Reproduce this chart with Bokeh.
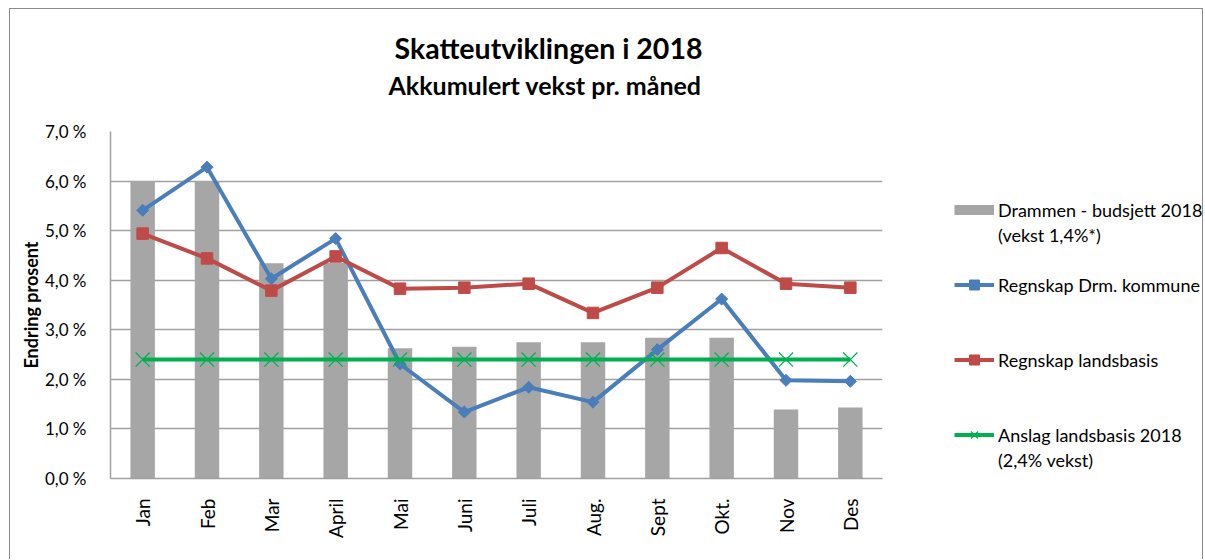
import numpy as np
from bokeh.plotting import figure
from bokeh.models import (FactorRange, Range1d, FixedTicker, Legend, LegendItem,
                          ColumnDataSource, Title)
from bokeh.embed import file_html
from bokeh.resources import INLINE

months = ["Jan", "Feb", "Mar", "April", "Mai", "Juni", "Juli", "Aug.", "Sept", "Okt.", "Nov", "Des"]
budsjett = [6.00, 6.00, 4.34, 4.35, 2.63, 2.66, 2.75, 2.75, 2.84, 2.84, 1.39, 1.43]
regnskap_drm = [5.41, 6.28, 4.03, 4.84, 2.31, 1.34, 1.84, 1.54, 2.60, 3.62, 1.98, 1.96]
regnskap_lands = [4.94, 4.44, 3.79, 4.48, 3.83, 3.85, 3.93, 3.34, 3.85, 4.65, 3.93, 3.85]
anslag = [2.4] * 12
y_ticks = [0, 1, 2, 3, 4, 5, 6, 7]
y_tick_labels = ["0,0 %", "1,0 %", "2,0 %", "3,0 %", "4,0 %", "5,0 %", "6,0 %", "7,0 %"]

FONT = "Lato"
GRID = "#a0a0a0"
EDGE = "1px solid #8a8a8a"
BAR = "#a6a6a6"

# page offset of the canvas (chart border drawn with CSS just outside it)
OX, OY = 10, 9
W, H = 1194, 551
FL, FT, FR, FB = 110 - OX, 131 - OY, 882 - OX, 478 - OY   # frame edges in canvas px
p = figure(width=W, height=H, x_range=FactorRange(*months), y_range=Range1d(0, 7),
           output_backend="svg", toolbar_location=None,
           min_border_left=FL, min_border_top=FT, min_border_right=W - FR, min_border_bottom=H - FB)
p.styles = {"margin-left": "9px", "margin-top": "8px",
            "border-top": EDGE, "border-left": EDGE, "border-right": EDGE}
p.outline_line_color = None
p.background_fill_color = "white"
p.border_fill_color = "white"

src = ColumnDataSource(dict(m=months, b=budsjett, d=regnskap_drm, l=regnskap_lands, a=anslag))

bars = p.vbar(x="m", top="b", width=0.38, source=src, fill_color=BAR, line_color=None)
# legend-only proxy (draws nothing in the plot) giving the flat grey swatch
bar_swatch = p.line(x=[months[0]], y=[np.nan], line_color=BAR, line_width=10)

bl = p.line(x="m", y="d", source=src, line_color="#4a7ebb", line_width=4)
bm = p.scatter(x="m", y="d", source=src, marker="square", angle=np.pi / 4, size=8.5,
               fill_color="#4a7ebb", line_color="#4a7ebb")
rl = p.line(x="m", y="l", source=src, line_color="#be4b48", line_width=4)
rm = p.scatter(x="m", y="l", source=src, marker="square", size=11.5,
               fill_color="#be4b48", line_color="#be4b48")
gl = p.line(x="m", y="a", source=src, line_color="#00b050", line_width=4)
gm = p.scatter(x="m", y="a", source=src, marker="x", size=20, line_color="#00b050", line_width=1.2)

# axes
p.yaxis.ticker = FixedTicker(ticks=y_ticks)
p.yaxis.major_label_overrides = {t: s for t, s in zip(y_ticks, y_tick_labels)}
p.yaxis.major_label_text_font = FONT
p.yaxis.major_label_text_font_size = "17px"
p.yaxis.major_label_text_color = "black"
p.yaxis.major_tick_line_color = None
p.yaxis.minor_tick_line_color = None
p.yaxis.major_label_standoff = 18
p.yaxis.axis_line_color = GRID
p.yaxis.axis_line_width = 1.5
p.yaxis.axis_label = "Endring prosent"
p.yaxis.axis_label_text_font = FONT
p.yaxis.axis_label_text_font_style = "bold"
p.yaxis.axis_label_text_font_size = "18px"
p.yaxis.axis_label_text_color = "black"
p.yaxis.axis_label_standoff = 0

p.xaxis.major_label_orientation = np.pi / 2
p.xaxis.major_label_text_font = FONT
p.xaxis.major_label_text_font_size = "19px"
p.xaxis.major_label_text_color = "black"
p.xaxis.major_label_standoff = 14
p.xaxis.major_tick_line_color = None
p.xaxis.minor_tick_line_color = None
p.xaxis.axis_line_color = GRID
p.xaxis.axis_line_width = 1.5
p.xgrid.grid_line_color = None
p.ygrid.grid_line_color = GRID
p.ygrid.grid_line_width = 1.5

# titles (first added sits next to the frame)
p.add_layout(Title(text="Akkumulert vekst pr. måned", align="left", offset=278,
                   vertical_align="top", standoff=59, text_font=FONT, text_font_style="bold",
                   text_font_size="25px", text_color="black"), "above")
p.add_layout(Title(text="Skatteutviklingen  i 2018", align="left", offset=284,
                   vertical_align="bottom", standoff=-49, text_font=FONT, text_font_style="bold",
                   text_font_size="28.5px", text_color="black"), "above")

# legend in the right-hand panel
legend = Legend(items=[
    LegendItem(label="Drammen - budsjett 2018", renderers=[bar_swatch]),
    LegendItem(label="(vekst 1,4%*)", renderers=[]),
    LegendItem(label="", renderers=[]),
    LegendItem(label="Regnskap Drm. kommune", renderers=[bl, bm]),
    LegendItem(label="", renderers=[]),
    LegendItem(label="", renderers=[]),
    LegendItem(label="Regnskap landsbasis", renderers=[rl, rm]),
    LegendItem(label="", renderers=[]),
    LegendItem(label="", renderers=[]),
    LegendItem(label="Anslag landsbasis 2018", renderers=[gl, gm]),
    LegendItem(label="(2,4% vekst)", renderers=[]),
], location=(954 - 882, 6), orientation="vertical")
legend.label_text_font = FONT
legend.label_text_font_size = "18px"
legend.label_text_color = "black"
legend.label_height = 25
legend.glyph_height = 25
legend.glyph_width = 40
legend.label_standoff = 4
legend.spacing = 0
legend.padding = 0
legend.margin = -200
legend.border_line_color = None
legend.background_fill_alpha = 0
p.add_layout(legend, "right")

open("out.html", "w").write(file_html(p, INLINE))
